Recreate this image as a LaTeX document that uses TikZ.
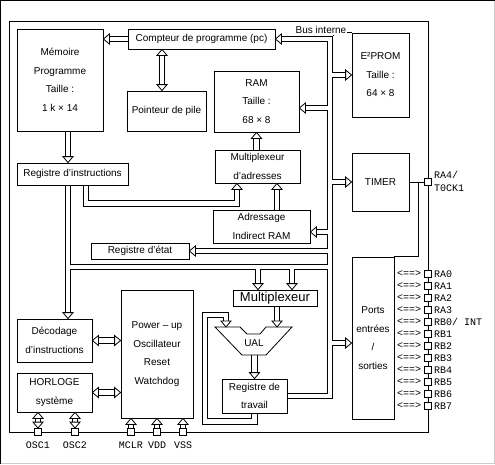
\documentclass[tikz,border=0pt]{standalone}
\usepackage{fontspec}
\setmainfont{Liberation Sans}
\setmonofont{Liberation Mono}
\usetikzlibrary{backgrounds}
\newcommand{\fslash}{/}
\newcommand{\tiphead}[2]{\draw[head,shift={(#1)},rotate=#2] (0,0) -- (-6,5) -- (-6,-5) -- cycle;}

\begin{document}
\begin{tikzpicture}[x=1pt,y=-1pt,
    box/.style={draw,fill=white,line width=0.8pt,align=center,inner sep=1pt,font=\fontsize{10}{18.5}\selectfont},
    pinbox/.style={draw,fill=white,line width=0.8pt,minimum size=7pt,inner sep=0pt},
    pinlbl/.style={font=\ttfamily\fontsize{10}{12}\selectfont,inner sep=0pt},
    head/.style={draw,fill=white,line width=0.8pt},
    busout/.style={line width=6.4pt},
    busin/.style={white,line width=4.8pt}]
  \useasboundingbox (0,0) rectangle (495,464);
  \draw[line width=1pt] (0.5,463.5) -- (0.5,0.5) -- (494.5,0.5);
  \draw[black!20,line width=1pt] (0.5,463.5) -- (494.5,463.5) -- (494.5,0.5);
  \draw[line width=0.8pt] (9,21) rectangle (428,432);

  % blocs
  \foreach \n/\x/\y/\w/\h/\t in {
    mem/60/80/86/102/Mémoire\\Programme\\Taille :\\1 k × 14,
    pc/201.5/39/147/20/Compteur de programme (pc),
    pile/166.5/111/79/40/Pointeur de pile,
    ram/256.5/101.5/85/61/RAM\\Taille :\\68 × 8,
    eeprom/380.5/75/57/84/E²PROM\\Taille :\\64 × 8,
    ir/72.5/174/111/22/Registre d'instructions,
    muxa/257.5/166.5/85/33/Multiplexeur\\d'adresses,
    indir/261.5/226.5/97/33/Adressage\\Indirect RAM,
    etat/140/251/98/16/Registre d'état,
    timer/380.5/182/57/58/TIMER,
    ports/373/338/42/162/Ports\\entrées\\\fslash\\sorties,
    decod/54.5/340.5/75/43/Décodage\\d'instructions,
    clk/54.5/392.5/75/39/HORLOGE\\système,
    power/157/354/72/128/Power – up\\Oscillateur\\Reset\\Watchdog,
    wreg/254.5/396/65/34/Registre de\\travail}
    \node[box,minimum width=\w pt,minimum height=\h pt] (\n) at (\x,\y) {\t};
  \node[box,font=\fontsize{13}{15}\selectfont,minimum width=84pt,minimum height=16pt] (mux) at (275,298) {Multiplexeur};

  % UAL
  \draw[line width=0.8pt,fill=white] (215,327) -- (240,327) -- (247,334) -- (260,334) -- (266,327)
    -- (292,327) -- (266,355) -- (242,355) -- cycle;
  \node[font=\fontsize{10}{12}\selectfont] (ual) at (254,343) {UAL};

  % broches
  \foreach \n/\x/\t in {osc1/38/OSC1,osc2/75/OSC2,mclr/131/MCLR,vdd/157/VDD,vss/183/VSS} {
    \node[pinbox] (\n) at (\x,432) {};
    \node[pinlbl] (\n-l) at (\x,445) {\t};
  }
  \node[pinbox] (ra4) at (428,182) {};
  \node[pinlbl,anchor=west] (ra4-l) at (434,175) {RA4/};
  \node[pinlbl,anchor=west] (tock-l) at (434,188) {T0CK1};
  \foreach \t [count=\i from 0] in {RA0,RA1,RA2,RA3,RB0/ INT,RB1,RB2,RB3,RB4,RB5,RB6,RB7} {
    \node[pinbox] (p\i) at (428,274+12*\i) {};
    \node[pinlbl,anchor=west] (l\i) at (434,274+12*\i) {\t};
    \node[pinlbl] (d\i) at (409,274+12*\i) {<==>};
  }
  \coordinate (tj) at (418,182);
  \draw[line width=0.8pt] (timer.east) -- (ra4.west);
  \draw[line width=0.8pt] (tj) |- (ports.north east);

  % points du bus
  \coordinate (bustop) at (330,39);
  \coordinate (busbot) at (330,396);
  \coordinate (irbus) at (68,267);
  \coordinate (muxl) at ([xshift=-17]mux.north);
  \coordinate (muxr) at ([xshift=17]mux.north);
  \coordinate (ramin) at ([yshift=-6.5]ram.east);
  \coordinate (indirin) at ([yshift=-5.5]indir.east);
  \coordinate (portsin) at ([yshift=-5]ports.west);
  \coordinate (memin) at (pc.west -| mem.east);
  \coordinate (irin) at (ir.north -| irbus);
  \coordinate (decin) at (decod.north -| irbus);
  \coordinate (pca) at ([xshift=-39.5]pc.south);
  \coordinate (pcb) at (pile.north -| pca);
  \coordinate (ira) at ([xshift=13.5]ir.south);
  \coordinate (muxain) at ([xshift=-20.5]muxa.south);
  \coordinate (muxbin) at ([xshift=19.5]muxa.south);
  \coordinate (ualr) at (277,327);
  \coordinate (uall) at (226,327);
  \coordinate (ualbot) at (254.5,355);
  \coordinate (loopc) at (205,315);
  \coordinate (pwa) at (decod.east -| power.west);
  \coordinate (pwb) at (clk.east -| power.west);
  \coordinate (c1) at (clk.south -| osc1);
  \coordinate (c2) at (clk.south -| osc2);
  \foreach \n in {mclr,vdd,vss}
    \coordinate (\n-in) at (power.south -| \n);

  \def\busnet{
    ([xshift=6]pc.east) -- (bustop) -- (busbot) -- (wreg.east)
    (bustop |- eeprom.west) -- ([xshift=-6]eeprom.west)
    (ramin -| bustop) -- ([xshift=6]ramin)
    (bustop |- timer.west) -- ([xshift=-6]timer.west)
    (indirin -| bustop) -- ([xshift=6]indirin)
    (bustop |- etat.east) -- ([xshift=6]etat.east)
    (portsin -| bustop) -- ([xshift=-6]portsin)
    (irbus) -- (irbus -| bustop)
    (irbus -| muxl) -- ([yshift=6]muxl)
    (irbus -| muxr) -- ([yshift=6]muxr)
    (pc.west) -- ([xshift=6]memin)
    ([yshift=-6]pca) -- ([yshift=6]pcb)
    (mem.south -| irbus) -- ([yshift=6]irin)
    (ir.south -| irbus) -- ([yshift=6]decin)
    (ira) -- ++(0,18) -| ([yshift=-6]muxain)
    (muxbin |- indir.north) -- ([yshift=-6]muxbin)
    (muxa.north -| ram.south) -- ([yshift=-6]ram.south)
    (mux.south -| ualr) -- ([yshift=6]ualr)
    (ualbot) -- ([yshift=6]wreg.north)
    (wreg.south) -- ++(0,8) -| (loopc) -| ([yshift=6]uall)
    ([xshift=6]decod.east) -- ([xshift=-6]pwa)
    ([xshift=6]clk.east) -- ([xshift=-6]pwb)
    ([yshift=-6]c1) -- ([yshift=6]osc1.north)
    ([yshift=-6]c2) -- ([yshift=6]osc2.north)
    (mclr.north) -- ([yshift=-6]mclr-in)
    (vdd.north) -- ([yshift=-6]vdd-in)
    (vss.north) -- ([yshift=-6]vss-in)}
  \begin{scope}[on background layer]
    \draw[busout] \busnet;
    \draw[busin] \busnet;
  \end{scope}

  % pointes creuses
  \tiphead{pc.east}{180}
  \tiphead{eeprom.west}{0}
  \tiphead{ramin}{180}
  \tiphead{timer.west}{0}
  \tiphead{indirin}{180}
  \tiphead{etat.east}{180}
  \tiphead{portsin}{0}
  \tiphead{muxl}{-90}
  \tiphead{muxr}{-90}
  \tiphead{memin}{180}
  \tiphead{pca}{90}
  \tiphead{pcb}{-90}
  \tiphead{irin}{-90}
  \tiphead{decin}{-90}
  \tiphead{muxain}{90}
  \tiphead{muxbin}{90}
  \tiphead{ram.south}{90}
  \tiphead{ualr}{-90}
  \tiphead{uall}{-90}
  \tiphead{wreg.north}{-90}
  \tiphead{decod.east}{180}
  \tiphead{pwa}{0}
  \tiphead{clk.east}{180}
  \tiphead{pwb}{0}
  \tiphead{c1}{90}
  \tiphead{c2}{90}
  \tiphead{osc1.north}{-90}
  \tiphead{osc2.north}{-90}
  \tiphead{mclr-in}{90}
  \tiphead{vdd-in}{90}
  \tiphead{vss-in}{90}

  \draw[line width=0.8pt] ([shift={(3.2,-3.2)}]bustop) |- (eeprom.north west);
  \node[font=\fontsize{10}{12}\selectfont,fill=white,inner sep=1pt] (busl) at (321,30) {Bus interne};
\end{tikzpicture}
\end{document}
